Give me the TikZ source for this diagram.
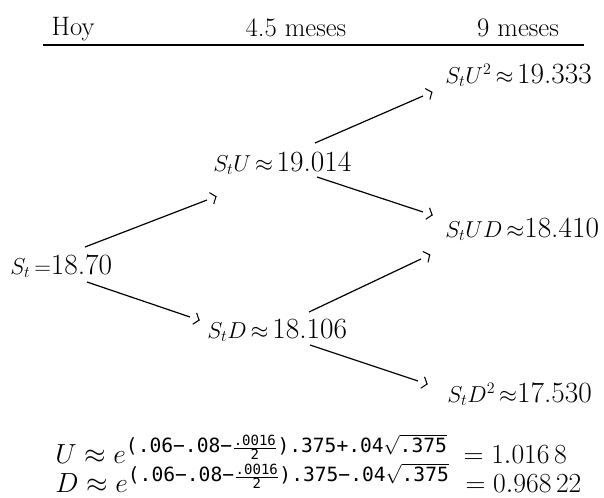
\documentclass[tikz,border=0pt]{standalone}
\usepackage{amsmath}
\usepackage{fontspec}
\newfontfamily\expf{DejaVu Sans Mono}
\usetikzlibrary{arrows.meta,calc}
\newcommand\ex[1]{\text{\expf #1}}
\newcommand\bignum[1]{{\fontsize{22}{24}\selectfont #1}}
\tikzset{
  val/.style={anchor=base west, inner sep=0pt, font=\fontsize{17}{20}\selectfont},
  hdr/.style={anchor=base, inner sep=0pt, font=\fontsize{20}{22}\selectfont},
  ln/.style={line width=0.9pt},
  tp/.style={line width=0.8pt, -{Straight Barb[length=3.5pt,width=9pt]}},
  frm/.style={anchor=base west, inner sep=0pt, font=\fontsize{21}{23}\selectfont}
}
\begin{document}
\begin{tikzpicture}[x=0.75pt,y=-0.75pt]
\useasboundingbox (0,0) rectangle (604,497);
% header
\node[hdr] (h0) at (73,35) {Hoy};
\node[hdr] (h1) at (296,36) {4.5 meses};
\node[hdr] (h2) at (518,36) {9 meses};
\coordinate (rl) at (43,45);
\coordinate (rr) at (584,45);
\draw[line width=1pt] (rl) -- (rr);
% nodes
\node[val] (a)  at (10,274)  {$S_t\,{=}$\bignum{18.70}};
\node[val] (b)  at (213,171) {$S_tU\,{\approx}$\,\bignum{19.014}};
\node[val] (d)  at (207,338) {$S_tD\,{\approx}$\,\bignum{18.106}};
\node[val] (uu) at (445,83)  {$S_tU^2\,{\approx}$\,\bignum{19.333}};
\node[val] (ud) at (445,237) {$S_tUD\,{\approx}$\bignum{18.410}};
\node[val] (dd) at (447,402) {$S_tD^2\,{\approx}$\bignum{17.530}};
% connector end points
\coordinate (a1) at (85,247);  \coordinate (a1e) at (207,200);
\coordinate (a2) at (87,282);  \coordinate (a2e) at (190,317);
\coordinate (b2) at (315,143); \coordinate (b2e) at (423,96);
\coordinate (b3) at (317,177); \coordinate (b3e) at (423,212);
\coordinate (d2) at (309,312); \coordinate (d2e) at (421,259);
\coordinate (d3) at (310,345); \coordinate (d3e) at (418,381);
\foreach \s/\e in {a1/a1e,a2/a2e,b2/b2e,b3/b3e,d2/d2e,d3/d3e}{
  \draw[ln] (\s) -- (\e);
  \draw[tp] ($(\e)!-7.5pt!(\s)$) -- ($(\e)!-7.7pt!(\s)$);
}
% formulas
\node[frm] (fu) at (55,463) {$U \approx e^{\ex{(.06−.08−}\frac{\ex{.0016}}{\ex{2}}\ex{).375+.04}\sqrt{\ex{.375}}}\ = 1.016\,8$};
\node[frm] (fd) at (55,492) {$D \approx e^{\ex{(.06−.08−}\frac{\ex{.0016}}{\ex{2}}\ex{).375−.04}\sqrt{\ex{.375}}}\ = 0.968\,22$};
\end{tikzpicture}
\end{document}
